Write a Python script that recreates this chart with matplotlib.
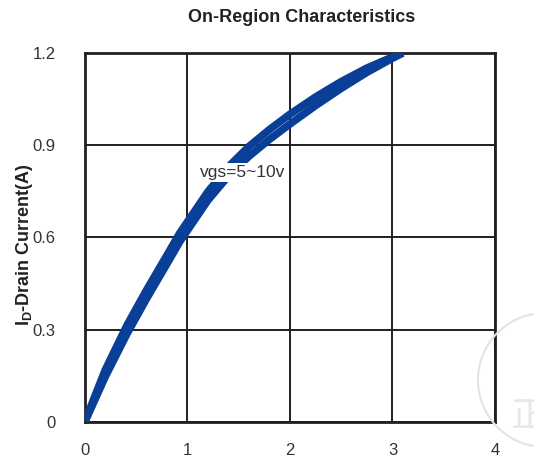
import matplotlib
matplotlib.use('Agg')
import matplotlib.pyplot as plt
from matplotlib.patches import Circle

plt.rcParams['font.family'] = ['Liberation Sans', 'DejaVu Sans']
plt.rcParams['mathtext.fontset'] = 'custom'
plt.rcParams['mathtext.rm'] = 'Liberation Sans:bold'
plt.rcParams['mathtext.default'] = 'rm'

# drain-source voltage (V)
vds = [0, 0.1, 0.2, 0.41, 0.6, 0.8, 0.925, 1.2, 1.4, 1.6, 1.8, 2.0, 2.25, 2.5, 2.75, 3.0, 3.1]
# drain current (A), upper and lower edge of the vgs = 5..10 V bundle
id_hi = [0, 0.086, 0.170, 0.314, 0.428, 0.542, 0.614, 0.749, 0.830, 0.896, 0.951, 1.001, 1.057, 1.107, 1.151, 1.187, 1.2]
id_lo = [0, 0.074, 0.148, 0.286, 0.400, 0.514, 0.586, 0.721, 0.800, 0.864, 0.919, 0.969, 1.029, 1.085, 1.137, 1.183, 1.2]

x_ticks = [0, 1, 2, 3, 4]
y_ticks = [0, 0.3, 0.6, 0.9, 1.2]
y_tick_labels = ['0', '0.3', '0.6', '0.9', '1.2']

fig = plt.figure(figsize=(5.34, 4.61), dpi=100)
ax = fig.add_axes([0.159, 0.085, 0.768, 0.8])

edge = '#231f20'
blue = '#0a3f97'
for curve in (id_lo, id_hi):
    ax.plot(vds, curve, color=blue, lw=5.5, solid_capstyle='butt',
            solid_joinstyle='round', zorder=3)

ax.set_xlim(0, 4)
ax.set_ylim(0, 1.2)
ax.set_xticks(x_ticks)
ax.set_yticks(y_ticks)
ax.set_yticklabels(y_tick_labels)
ax.grid(True, color=edge, lw=1.4)
ax.set_axisbelow(True)
for s in ax.spines.values():
    s.set_color(edge)
    s.set_linewidth(2)
ax.tick_params(length=0, labelsize=12, labelcolor='#333333')
ax.tick_params(axis='x', pad=15)
ax.tick_params(axis='y', pad=21)

ax.text(1.54, 0.81, 'vgs=5~10v', fontsize=12.5, color='#333333', ha='center', va='center',
        bbox=dict(facecolor='white', edgecolor='none', pad=1.5), zorder=4)

fig.text(0.564, 0.963, 'On-Region Characteristics', fontsize=13, fontweight='bold',
         color='#222222', ha='center', va='center')
fig.text(0.045, 0.469, r'I$_{D}$-Drain Current(A)', fontsize=13, fontweight='bold',
         color='#222222', rotation=90, ha='center', va='center')

# faint watermark in the lower right corner
fig.patches.append(Circle((545, 461 - 380), 67, transform=None, fill=False, ec='#e3e3e3', lw=1.5))
fig.text(0.955, 0.095, '正', fontsize=26, color='#e8e8e8', family=['Noto Sans CJK SC'],
         ha='left', va='center')

fig.savefig('out.png', dpi=100)
